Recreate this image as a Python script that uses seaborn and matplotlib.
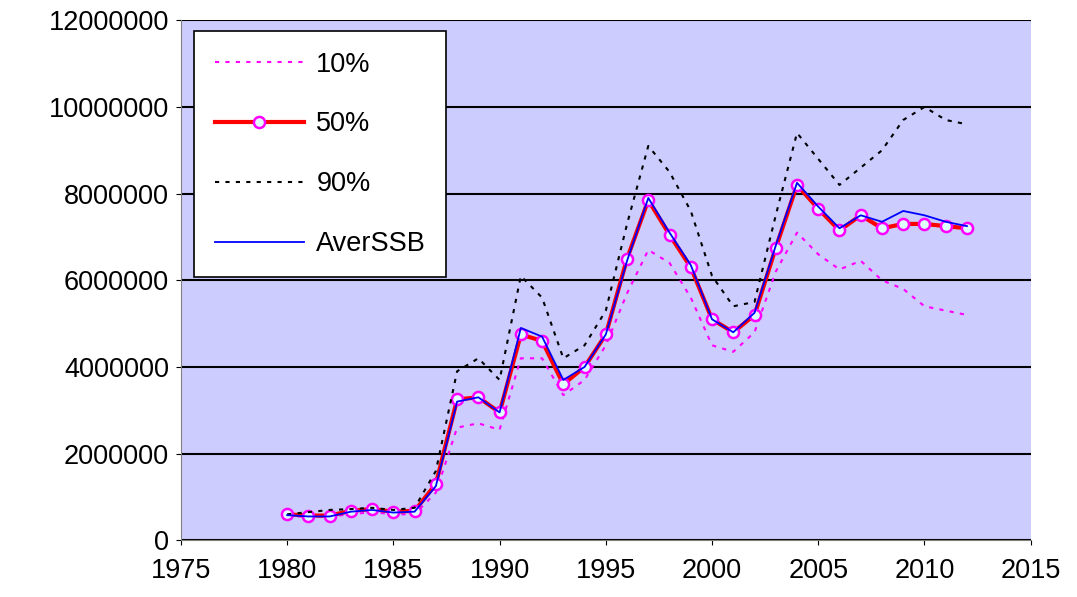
import matplotlib
matplotlib.use("Agg")
import matplotlib.pyplot as plt
import seaborn as sns
import numpy as np

years = list(range(1980, 2013))
p50 = [0.6,0.57,0.57,0.68,0.72,0.66,0.68,1.3,3.25,3.3,2.95,4.75,4.6,3.6,4.0,4.75,6.5,7.85,7.05,6.3,5.1,4.8,5.2,6.75,8.2,7.65,7.15,7.5,7.2,7.3,7.3,7.25,7.2]
aver = [0.58,0.55,0.55,0.66,0.7,0.64,0.66,1.25,3.2,3.3,2.95,4.9,4.7,3.7,4.0,4.75,6.45,7.9,7.1,6.35,5.1,4.8,5.25,6.8,8.25,7.7,7.2,7.5,7.35,7.6,7.5,7.35,7.25]
p90 = [0.6,0.65,0.7,0.72,0.75,0.7,0.75,1.6,3.9,4.2,3.7,6.1,5.6,4.2,4.5,5.3,7.3,9.1,8.5,7.6,6.1,5.4,5.5,7.5,9.4,8.8,8.2,8.6,9.0,9.7,10.0,9.7,9.6]
p10 = [0.55,0.55,0.55,0.6,0.65,0.6,0.6,1.1,2.6,2.7,2.55,4.2,4.2,3.35,3.7,4.5,5.7,6.7,6.4,5.6,4.5,4.35,4.8,6.2,7.1,6.6,6.25,6.45,6.0,5.8,5.4,5.3,5.2]

plt.rcParams['font.family'] = ['Liberation Sans', 'DejaVu Sans']
M = 1e6
fig, ax = plt.subplots(figsize=(10.77, 5.97), dpi=100)
fig.subplots_adjust(left=0.168, right=0.957, top=0.966, bottom=0.095)
ax.set_facecolor("#CCCCFF")
y = lambda v: [a*M for a in v]
sns.lineplot(x=years, y=y(p10), ax=ax, color="magenta", ls=(0,(2,3)), lw=1.5, label="10%")
sns.lineplot(x=years, y=y(p50), ax=ax, color="red", lw=3, marker="o", ms=8,
             mfc="#E0FFFF", mec="magenta", mew=1.8, label="50%")
sns.lineplot(x=years, y=y(p90), ax=ax, color="black", ls=(0,(2,3)), lw=1.5, label="90%")
sns.lineplot(x=years, y=y(aver), ax=ax, color="blue", lw=1.3, label="AverSSB")
ax.set_xlim(1975, 2015)
ax.set_ylim(0, 12e6)
ax.set_xticks(range(1975, 2016, 5))
ax.set_yticks(np.arange(0, 12e6+1, 2e6))
ax.set_yticklabels([str(int(v)) for v in np.arange(0, 12e6+1, 2e6)])
ax.yaxis.grid(True, color="black", lw=1.5)
ax.set_axisbelow(True)
ax.tick_params(labelsize=19.5, direction="out")
ax.tick_params(axis="x", pad=9)
ax.tick_params(axis="y", pad=5)
for s in ["top", "right"]:
    ax.spines[s].set_visible(False)
ax.spines["left"].set_color("gray"); ax.spines["bottom"].set_color("gray")
leg = ax.legend(loc="upper left", bbox_to_anchor=(0.0, 1.005), fontsize=19.5, frameon=True,
                fancybox=False, edgecolor="black", framealpha=1, handlelength=3.3,
                labelspacing=1.25, borderpad=0.75, handletextpad=0.45)
leg.get_frame().set_linewidth(1.2)
plt.savefig("out.png", dpi=100)
